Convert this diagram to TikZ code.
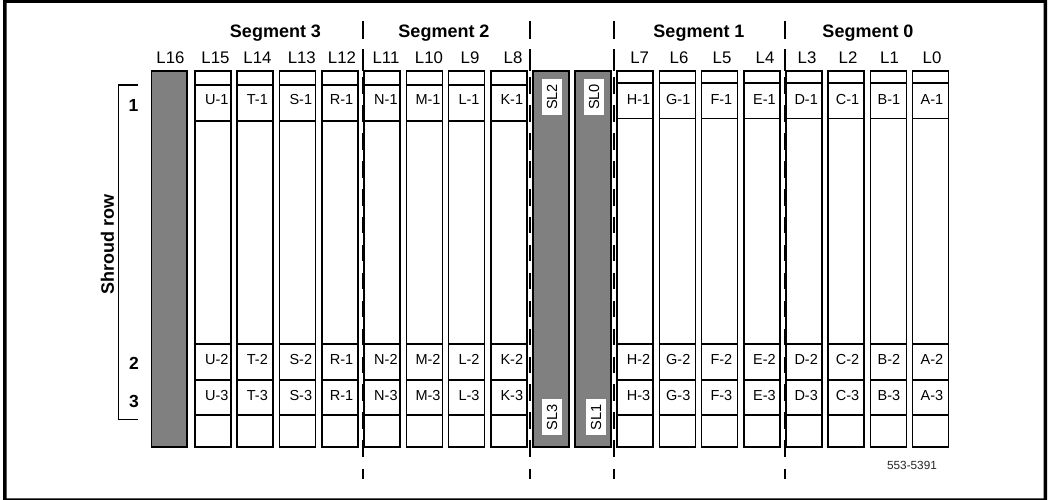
\documentclass[tikz,border=0pt]{standalone}
\usepackage{fontspec}
\setmainfont{Liberation Sans}
\tikzset{x=1pt,y=-1pt,
 column/.style={draw=black,line width=1.7pt,fill=white},
 greycol/.style={draw=black,line width=1.7pt,fill=black!50},
 divider/.style={black,line width=1.7pt,dash pattern=on 16.7pt off 11.25pt},
 solidtick/.style={black,line width=1.7pt},
 celltext/.style={anchor=base west,inner sep=0pt,font=\fontsize{14.5}{16}\selectfont},
 coltext/.style={anchor=base,inner sep=0pt,font=\fontsize{16.8}{18}\selectfont},
 segtext/.style={anchor=base,inner sep=0pt,font=\fontsize{18}{20}\selectfont\bfseries},
 rowtext/.style={anchor=base,inner sep=0pt,font=\fontsize{17.5}{19}\selectfont\bfseries},
 sltext/.style={fill=white,rotate=90,inner sep=0pt,minimum width=36pt,minimum height=20pt,font=\fontsize{14.6}{16}\selectfont},
}
\begin{document}
\begin{tikzpicture}
\useasboundingbox (0,0) rectangle (1050,500);
\fill[white] (0,0) rectangle (1050,500);
\fill[black,even odd rule] (3,0) rectangle (1047,500) (6.7,3) rectangle (1043.5,498.3);
% grey columns
\draw[greycol] (151.5,71) rectangle (187,447);
\draw[greycol] (533,71) rectangle (569,447);
\draw[greycol] (575,71) rectangle (611,447);
% left columns
\foreach \xa/\ca/\ta/\tb/\tc/\lab/\lx/\tx in {
 195/U/U-1/U-2/U-3/L15/215.5/205,
 237.3/T/T-1/T-2/T-3/L14/257.5/246.7,
 279.6/S/S-1/S-2/S-3/L13/301.8/289.3,
 322/R/R-1/R-1/R-1/L12/342/329.7,
 364.2/N/N-1/N-2/N-3/L11/386/374,
 406.4/M/M-1/M-2/M-3/L10/429/415.3,
 448.6/Lc/L-1/L-2/L-3/L9/470/458.3,
 490.8/K/K-1/K-2/K-3/L8/513/500.3}{
 \draw[column] (\xa,71) rectangle ++(36,376);
 \draw[column] (\xa,85) -- ++(36,0) (\xa,120.7) -- ++(36,0) (\xa,344) -- ++(36,0) (\xa,380) -- ++(36,0) (\xa,415.3) -- ++(36,0);
 \node[coltext] (top\ca) at (\lx,63.3) {\lab};
 \node[celltext] (a\ca) at (\tx,105) {\ta};
 \node[celltext] (b\ca) at (\tx,364) {\tb};
 \node[celltext] (c\ca) at (\tx,400) {\tc};
}
% right columns
\foreach \xa/\ca/\ta/\tb/\tc/\lab/\lx/\tx in {
 617/H/H-1/H-2/H-3/L7/639.7/626.7,
 659.4/G/G-1/G-2/G-3/L6/679/666,
 701.6/F/F-1/F-2/F-3/L5/722/710.3,
 743.8/E/E-1/E-2/E-3/L4/765/753,
 786/D/D-1/D-2/D-3/L3/807/794.3,
 828.2/C/C-1/C-2/C-3/L2/848/835.7,
 870.4/B/B-1/B-2/B-3/L1/889.5/877.5,
 912.6/A/A-1/A-2/A-3/L0/932/920.5}{
 \draw[column] (\xa,71) rectangle ++(36,376);
 \draw[column] (\xa,83) -- ++(36,0) (\xa,118.5) -- ++(36,0) (\xa,344) -- ++(36,0) (\xa,380) -- ++(36,0) (\xa,415.3) -- ++(36,0);
 \node[coltext] (top\ca) at (\lx,63.3) {\lab};
 \node[celltext] (a\ca) at (\tx,105) {\ta};
 \node[celltext] (b\ca) at (\tx,364) {\tb};
 \node[celltext] (c\ca) at (\tx,400) {\tc};
}
\node[coltext] (topQ) at (170.5,63.3) {L16};
% slot labels
\node[sltext] (sl2) at (552,97) {SL2};
\node[sltext] (sl0) at (594.2,97) {SL0};
\node[sltext] (sl3) at (552,417.3) {SL3};
\node[sltext] (sl1) at (596,417.3) {SL1};
% segment dividers
\foreach \dx in {363,529.7,614,785.2}{
 \draw[solidtick] (\dx,21) -- (\dx,39);
 \draw[solidtick] (\dx,49.5) -- (\dx,71);
 \draw[divider] (\dx,77) -- (\dx,457);
 \draw[solidtick] (\dx,468.5) -- (\dx,479);
}
% segment labels
\node[segtext] (s3) at (275.5,38) {Segment 3};
\node[segtext] (s2) at (444,38) {Segment 2};
\node[segtext] (s1) at (699,38) {Segment 1};
\node[segtext] (s0) at (868,38) {Segment 0};
% shroud bracket
\draw[black,line width=1.3pt] (138,85) -- (118.5,85) -- (118.5,419.3) -- (138,419.3);
\node[segtext,anchor=center,rotate=90] (shroud) at (107.5,244.5) {Shroud row};
\node[rowtext] (r1) at (133.5,112) {1};
\node[rowtext] (r2) at (134,369.3) {2};
\node[rowtext] (r3) at (134,407.3) {3};
\node[anchor=base,inner sep=0pt,font=\fontsize{11.8}{13}\selectfont,black!85] (code) at (912,469) {553-5391};
\end{tikzpicture}
\end{document}
